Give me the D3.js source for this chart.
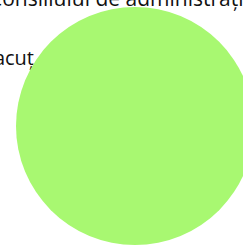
<!DOCTYPE html>
<html>
<head>
<meta charset="utf-8">
<script src="https://cdn.jsdelivr.net/npm/d3@7"></script>
<style>
    html, body { margin: 0; padding: 0; background: #ffffff; overflow: hidden; }
    svg { display: block; }
</style>
</head>
<body>
<div id="container"></div>
<script>
const categories = ['Consiliul de administrație'];
const values = [100];
const colors = ['#a8f871'];
const title = 'Componența Consiliului de administrație';
const sideLabel = 'Executarea acuț';

const width = 243;
const height = 247;

const svg = d3.select('#container')
    .append('svg')
    .attr('width', width)
    .attr('height', height);

// title, mostly above the view
svg.append('text')
    .text(title)
    .attr('x', -144)
    .attr('y', 6)
    .style('font-family', '\'Open Sans\', sans-serif')
    .style('font-size', '21px')
    .style('fill', '#111111');

// side label, ends where the pie begins
svg.append('text')
    .text(sideLabel)
    .attr('x', 34)
    .attr('y', 65)
    .attr('text-anchor', 'end')
    .style('font-family', '\'Open Sans\', sans-serif')
    .style('font-size', '20px')
    .style('fill', '#111111');

const radius = 119;
const group = svg.append('g')
    .attr('transform', `translate(135, 126)`);

const pie = d3.pie().sort(null).value(d => d.value);
const arc = d3.arc().innerRadius(0).outerRadius(radius);

const slices = pie(categories.map((c, i) => ({ name: c, value: values[i] })));

group.selectAll('path')
    .data(slices)
    .join('path')
    .attr('d', arc)
    .attr('fill', (d, i) => colors[i]);
</script>
</body>
</html>
